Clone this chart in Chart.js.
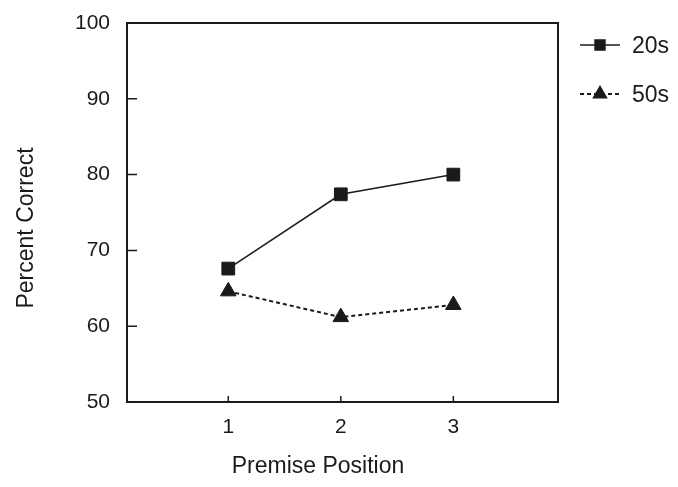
<!DOCTYPE html>
<html lang="en">
<head>
  <meta charset="UTF-8" />
  <title>Percent Correct by Premise Position</title>
  <script src="https://cdn.jsdelivr.net/npm/chart.js"></script>
  <style>
    html, body {
      margin: 0;
      padding: 0;
      background: #ffffff;
    }
    #wrap {
      width: 678px;
      height: 487px;
    }
  </style>
</head>
<body>
  <div id="wrap"><canvas id="chart"></canvas></div>

  <script>
    // data
    const positions = [1, 2, 3];
    const labels = ['20s', '50s'];
    const values20s = [67.6, 77.4, 80.0];
    const values50s = [64.6, 61.2, 62.8];
    const yTicks = [50, 60, 70, 80, 90, 100];

    const ink = '#1a1a1a';
    const fontFamily = '"Liberation Sans", Arial, Helvetica, sans-serif';

    function pts(vals) {
      return positions.map((p, i) => ({ x: p, y: vals[i] }));
    }

    // frame, inward ticks, axis titles and legend
    const decor = {
      id: 'decor',
      afterDraw(chart) {
        const { ctx, chartArea: a, scales } = chart;
        ctx.save();
        ctx.strokeStyle = ink;
        ctx.lineWidth = 2;
        ctx.strokeRect(a.left, a.top, a.right - a.left, a.bottom - a.top);

        ctx.lineWidth = 1.5;
        ctx.beginPath();
        yTicks.forEach(v => {
          const y = scales.y.getPixelForValue(v);
          ctx.moveTo(a.left, y);
          ctx.lineTo(a.left + 10, y);
        });
        positions.forEach(p => {
          const x = scales.x.getPixelForValue(p);
          ctx.moveTo(x, a.bottom);
          ctx.lineTo(x, a.bottom - 6);
        });
        ctx.stroke();

        ctx.fillStyle = ink;
        ctx.font = '23px ' + fontFamily;
        ctx.textAlign = 'center';
        ctx.textBaseline = 'middle';
        ctx.fillText('Premise Position', 318, 467);
        ctx.save();
        ctx.translate(27, 228);
        ctx.rotate(-Math.PI / 2);
        ctx.fillText('Percent Correct', 0, 0);
        ctx.restore();

        // legend
        const rows = [45, 94];
        chart.data.datasets.forEach((ds, i) => {
          const y = rows[i];
          ctx.strokeStyle = ink;
          ctx.lineWidth = ds.borderWidth;
          ctx.setLineDash(ds.borderDash || []);
          ctx.beginPath();
          ctx.moveTo(580, y);
          ctx.lineTo(620, y);
          ctx.stroke();
          ctx.setLineDash([]);
          Chart.helpers.drawPoint(ctx, {
            pointStyle: ds.pointStyle,
            radius: ds.pointRadius - 2,
            borderWidth: 1
          }, 600, y);
          ctx.fillStyle = ink;
          ctx.font = '23px ' + fontFamily;
          ctx.textAlign = 'left';
          ctx.fillText(ds.label, 632, y + 2);
        });
        ctx.restore();
      }
    };

    new Chart(document.getElementById('chart'), {
      type: 'line',
      data: {
        datasets: [
          {
            label: labels[0],
            data: pts(values20s),
            borderColor: ink,
            backgroundColor: ink,
            borderWidth: 1.5,
            pointStyle: 'rect',
            pointRadius: 9,
            pointBorderWidth: 1,
            pointBackgroundColor: ink,
            pointBorderColor: ink
          },
          {
            label: labels[1],
            data: pts(values50s),
            borderColor: ink,
            backgroundColor: ink,
            borderWidth: 2,
            borderDash: [4, 3],
            pointStyle: 'triangle',
            pointRadius: 9,
            pointBorderWidth: 1,
            pointBackgroundColor: ink,
            pointBorderColor: ink
          }
        ]
      },
      options: {
        responsive: true,
        maintainAspectRatio: false,
        animation: false,
        layout: { padding: { top: 23, right: 120, left: 0, bottom: 0 } },
        plugins: {
          legend: { display: false },
          tooltip: { enabled: false }
        },
        scales: {
          x: {
            type: 'linear',
            min: 0.1,
            max: 3.93,
            grid: { display: false, drawTicks: false },
            border: { display: false },
            afterBuildTicks: s => { s.ticks = positions.map(v => ({ value: v })); },
            afterFit: s => { s.height = 85; s.paddingLeft = 0; s.paddingRight = 0; },
            ticks: {
              color: ink,
              padding: 13,
              font: { family: fontFamily, size: 21 }
            }
          },
          y: {
            min: 50,
            max: 100,
            grid: { display: false, drawTicks: false },
            border: { display: false },
            afterBuildTicks: s => { s.ticks = yTicks.map(v => ({ value: v })); },
            afterFit: s => { s.width = 127; s.paddingTop = 0; s.paddingBottom = 0; },
            ticks: {
              color: ink,
              padding: 17,
              font: { family: fontFamily, size: 21 }
            }
          }
        }
      },
      plugins: [decor]
    });
  </script>
</body>
</html>
